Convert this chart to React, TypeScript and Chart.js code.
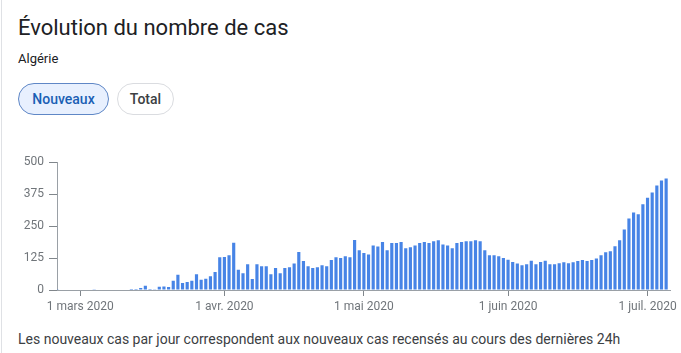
import React, { useEffect, useRef } from "react";
import { Chart, registerables } from "chart.js";

Chart.register(...registerables);

// Daily new cases, Feb 25 2020 -> Jul 5 2020
const febValues = [1, 0, 0, 0, 0];
const marValues = [0, 0, 2, 3, 0, 0, 2, 0, 0, 0, 0, 4, 4, 8, 17, 4, 3, 13, 14, 12, 36, 60, 27, 31, 36, 62, 40, 44, 54, 70, 128];
const aprValues = [129, 136, 185, 79, 66, 101, 43, 101, 93, 93, 62, 86, 66, 86, 89, 104, 149, 113, 93, 86, 89, 97, 93, 117, 128, 125, 132, 128, 196, 156];
const mayValues = [145, 139, 174, 170, 188, 156, 184, 184, 188, 163, 167, 174, 184, 188, 184, 191, 195, 178, 174, 163, 184, 188, 191, 191, 195, 191, 156, 136, 136, 132, 125];
const junValues = [118, 110, 104, 97, 101, 114, 101, 110, 114, 101, 101, 105, 109, 105, 109, 113, 117, 113, 117, 123, 136, 148, 152, 171, 195, 237, 280, 303, 296, 335];
const julValues: (number | null)[] = [361, 381, 409, 428, 436, null];

const startDate = "2020-02-25";
const monthTickLabels: Record<string, string> = {
  "2020-03-01": "1 mars 2020",
  "2020-04-01": "1 avr. 2020",
  "2020-05-01": "1 mai 2020",
  "2020-06-01": "1 juin 2020",
  "2020-07-01": "1 juil. 2020",
};
const yTicks = [0, 125, 250, 375, 500];

const values: (number | null)[] = [...febValues, ...marValues, ...aprValues, ...mayValues, ...junValues, ...julValues];

function buildDates(start: string, n: number): string[] {
  const out: string[] = [];
  const d = new Date(start + "T12:00:00Z");
  for (let i = 0; i < n; i++) {
    out.push(d.toISOString().slice(0, 10));
    d.setUTCDate(d.getUTCDate() + 1);
  }
  return out;
}
const dates = buildDates(startDate, values.length);

const FONT = "Roboto, Arial, sans-serif";

export default function App() {
  const ref = useRef<HTMLCanvasElement | null>(null);

  useEffect(() => {
    document.body.style.margin = "0";
    const ctx = ref.current!;
    const chart = new Chart(ctx, {
      type: "bar",
      data: {
        labels: dates,
        datasets: [
          {
            data: values,
            backgroundColor: "#4784e6",
            barPercentage: 0.68,
            categoryPercentage: 1,
          },
        ],
      },
      options: {
        animation: false,
        responsive: false,
        layout: { padding: { top: 12, right: 10, left: 0, bottom: 0 } },
        plugins: { legend: { display: false }, tooltip: { enabled: false } },
        scales: {
          x: {
            type: "category",
            offset: false,
            grid: { offset: false, drawOnChartArea: false, drawTicks: true, tickLength: 6, color: "#80868b" },
            border: { display: true, color: "#9aa0a6" },
            ticks: {
              autoSkip: false,
              maxRotation: 0,
              padding: 4,
              color: "#70757a",
              font: { family: FONT, size: 12 },
              callback: function (value: any, index: number) {
                const lbl = monthTickLabels[dates[index]];
                return lbl === undefined ? null : lbl;
              },
            },
            afterFit: (scale: any) => {
              scale.height = 35;
            },
          },
          y: {
            min: 0,
            max: 500,
            afterBuildTicks: (scale: any) => {
              scale.ticks = yTicks.map((v) => ({ value: v }));
            },
            grid: { drawOnChartArea: false, drawTicks: true, tickLength: 8, color: "#80868b" },
            border: { display: true, color: "#9aa0a6" },
            ticks: {
              padding: 5,
              color: "#70757a",
              font: { family: FONT, size: 12 },
            },
            afterFit: (scale: any) => {
              scale.width = 57;
            },
          },
        },
      },
    } as any);
    return () => chart.destroy();
  }, []);

  return (
    <div
      style={{
        position: "relative",
        width: 681,
        height: 353,
        background: "#ffffff",
        overflow: "hidden",
        fontFamily: FONT,
      }}
    >
      <div
        style={{
          position: "absolute",
          left: 1,
          top: -10,
          width: 720,
          height: 400,
          border: "1px solid #dfe1e5",
          borderRadius: 8,
          boxSizing: "border-box",
        }}
      />
      <div
        style={{
          position: "absolute",
          left: 18,
          top: 14,
          fontSize: 22,
          color: "#202124",
          lineHeight: "28px",
          whiteSpace: "nowrap",
        }}
      >
        Évolution du nombre de cas
      </div>
      <div
        style={{
          position: "absolute",
          left: 18,
          top: 50,
          fontSize: 13,
          color: "#202124",
          lineHeight: "18px",
        }}
      >
        Algérie
      </div>
      <div
        style={{
          position: "absolute",
          left: 18,
          top: 83,
          width: 91,
          height: 32,
          boxSizing: "border-box",
          borderRadius: 16,
          border: "1px solid #5f87c6",
          background: "#e8f0fe",
          color: "#1a5fb4",
          fontSize: 14,
          fontWeight: 500,
          display: "flex",
          alignItems: "center",
          justifyContent: "center",
        }}
      >
        Nouveaux
      </div>
      <div
        style={{
          position: "absolute",
          left: 117,
          top: 83,
          width: 57,
          height: 32,
          boxSizing: "border-box",
          borderRadius: 16,
          border: "1px solid #dadce0",
          background: "#ffffff",
          color: "#3c4043",
          fontSize: 14,
          fontWeight: 500,
          display: "flex",
          alignItems: "center",
          justifyContent: "center",
        }}
      >
        Total
      </div>
      <canvas
        ref={ref}
        width={681}
        height={175}
        style={{ position: "absolute", left: 0, top: 150, width: 681, height: 175 }}
      />
      <div
        style={{
          position: "absolute",
          left: 18,
          top: 331,
          fontSize: 14,
          color: "#3c4043",
          lineHeight: "16px",
          whiteSpace: "nowrap",
        }}
      >
        Les nouveaux cas par jour correspondent aux nouveaux cas recensés au cours des dernières 24h
      </div>
    </div>
  );
}
